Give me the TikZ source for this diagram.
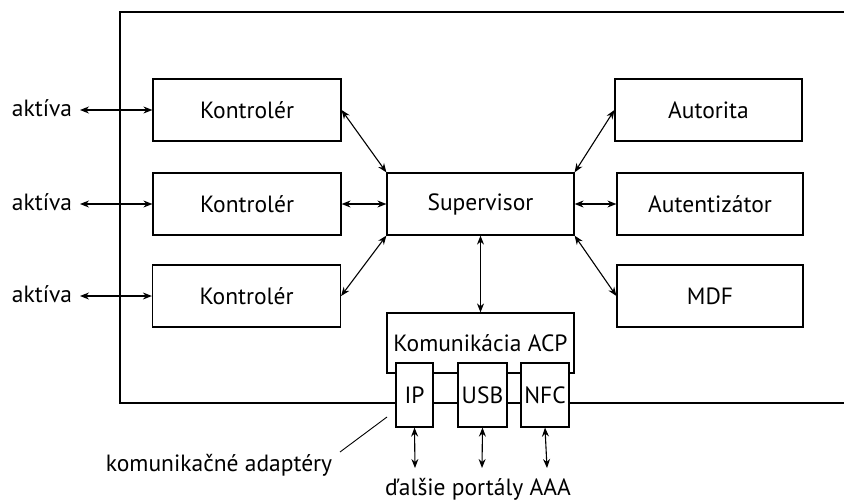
\documentclass[tikz,border=0pt]{standalone}
\usepackage{fontspec}
\setmainfont{PT Sans}
\usetikzlibrary{arrows.meta}
\begin{document}
\begin{tikzpicture}[x=1pt,y=-1pt,
  every node/.style={font=\fontsize{23.5}{26}\selectfont, inner sep=0pt},
  blok/.style={draw, line width=1.2pt, fill=white, minimum width=188pt, minimum height=62pt},
  adapter/.style={draw, line width=1.2pt, fill=white, minimum height=64pt},
  link/.style={line width=1.1pt, {Stealth[length=9pt,width=7pt]}-{Stealth[length=9pt,width=7pt]}},
  frame/.style={line width=1.2pt}]
\useasboundingbox (0,0) rectangle (844,503);

% system boundary (open on the right)
\draw[frame] (844,12) -- (120,12) -- (120,403) -- (844,403);

% controllers
\node[blok] (k1) at (247,110) {Kontrolér};
\node[blok] (k2) at (247,204) {Kontrolér};
\node[blok] (k3) at (246.5,296) {Kontrolér};

% supervisor and right-hand modules
\node[blok, minimum width=187pt] (sup) at (480.5,204) {Supervisor};
\node[blok, minimum width=187pt] (aut) at (708.5,110) {Autorita};
\node[blok, minimum width=186pt] (atz) at (710,204) {Autentizátor};
\node[blok, minimum width=186pt] (mdf) at (710,296) {MDF};

% communication block with its adapters
\node[blok, minimum width=187pt, minimum height=60pt, fill=none] (acp) at (480.5,343) {Komunikácia ACP};
\node[adapter, minimum width=37pt] (ip) at (414.5,395) {IP};
\node[adapter, minimum width=49pt] (usb) at (482.5,395) {USB};
\node[adapter, minimum width=48pt] (nfc) at (545,395) {NFC};

% external labels
\node (a1) at (42,108) {aktíva};
\node (a2) at (42,202) {aktíva};
\node (a3) at (42,294) {aktíva};
\node (ad) at (219,465) {komunikačné adaptéry};
\node (pa) at (478,489) {ďalšie portály AAA};

\coordinate (e1) at (80,110);
\coordinate (e2) at (80,204);
\coordinate (e3) at (80,296);
\coordinate (p1) at (415,468);
\coordinate (p2) at (482,468);
\coordinate (p3) at (547,468);
\coordinate (l1) at (340,452);
\coordinate (l2) at (387,417);

% connectors
\draw[link] (e1) -- (k1.west);
\draw[link] (e2) -- (k2.west);
\draw[link] (e3) -- (k3.west);
\draw[link] (k1.east) -- (sup.north west);
\draw[link] (k2.east) -- (sup.west);
\draw[link] (k3.east) -- (sup.south west);
\draw[link] (sup.north east) -- (aut.west);
\draw[link] (sup.east) -- (atz.west);
\draw[link] (sup.south east) -- (mdf.west);
\draw[link] (sup.south) -- (acp.north);
\draw[link] (ip.south) -- (p1);
\draw[link] (usb.south) -- (p2);
\draw[link] (nfc.south) -- (p3);
\draw[line width=0.9pt] (l1) -- (l2);
\end{tikzpicture}
\end{document}
